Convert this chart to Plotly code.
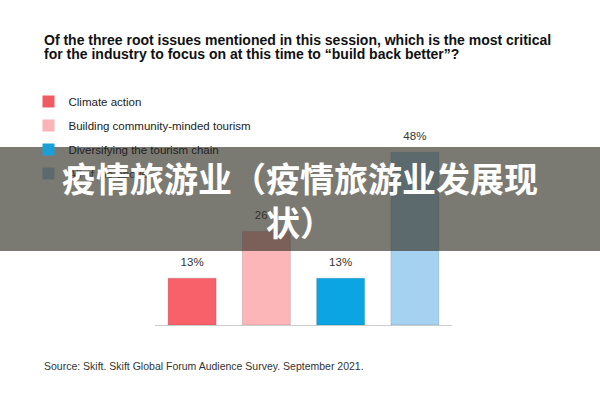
import plotly.graph_objects as go

# ---- data ----
categories = ["Climate action", "Building community-minded tourism",
              "Diversifying the tourism chain", "All of the above"]
values = [13, 26, 13, 48]
bar_colors = ["#f9616a", "#fcb6b8", "#0aa5e2", "#a6d2f1"]
legend_colors = ["#f05a60", "#f8b4b6", "#1a9fd6", "#5d6a6d"]
label_texts = [f"{v}%" for v in values]

title_lines = ["Of the three root issues mentioned in this session, which is the most critical",
               "for the industry to focus on at this time to \u201cbuild back better\u201d?"]
source_text = "Source: Skift. Skift Global Forum Audience Survey. September 2021."
banner_text = "疫情旅游业（疫情旅游业发展现<br>状）"

# ---- layout geometry (pixels) ----
W, H = 600, 400
L, R, T, B = 155, 148, 100, 75
pw, ph = W - L - R, H - T - B


def px_x(x):
    return (x - L) / pw


def px_y(y):
    return (H - B - y) / ph


fig = go.Figure()

# bars
fig.add_trace(go.Bar(x=categories, y=values, marker_color=bar_colors,
                     marker_line=dict(color="rgba(0,0,0,0.12)", width=1),
                     showlegend=False, hoverinfo="skip"))

# value labels
fig.add_trace(go.Scatter(x=categories, y=values, text=label_texts, mode="markers+text",
                         marker=dict(size=14, opacity=0), textposition="top center",
                         textfont=dict(size=11.5, color="#333333", family="Liberation Sans"),
                         cliponaxis=False, showlegend=False, hoverinfo="skip"))

# legend entries
for i, (name, col) in enumerate(zip(categories, legend_colors)):
    label = name
    if i == 3:
        label = f'<span style="color:#3a382f">{name}</span>'
    fig.add_trace(go.Bar(x=[None], y=[None], name=label, marker_color=col,
                         marker_line_width=0, legendgroup=f"g{i}", showlegend=True))

title_annots = [
    dict(text=t, xref="paper", yref="paper", x=px_x(41.5), y=px_y(yc),
         xanchor="left", yanchor="middle", showarrow=False,
         font=dict(size=14, color="#111111", family="Liberation Sans", weight="bold"))
    for t, yc in zip(title_lines, [40.5, 54.5])
]

fig.update_layout(
    width=W, height=H, autosize=False,
    margin=dict(l=L, r=R, t=T, b=B, pad=0, autoexpand=False),
    paper_bgcolor="white", plot_bgcolor="white",
    barmode="overlay", bargap=1 - 48 / (pw / 4),
    font=dict(family="Liberation Sans", color="#222222"),
    legend=dict(xref="container", yref="container", x=28.5 / W, xanchor="left",
                y=1 - 87 / H, yanchor="top", traceorder="grouped", tracegroupgap=5,
                font=dict(size=11.5, color="#222222", family="Liberation Sans"),
                bgcolor="rgba(0,0,0,0)", borderwidth=0),
    xaxis=dict(type="category", categoryorder="array", categoryarray=categories,
               showline=True, linecolor="#cccccc", linewidth=1, showticklabels=False,
               ticks="", showgrid=False, zeroline=False, fixedrange=True),
    yaxis=dict(visible=False, range=[0, ph / 3.6], showgrid=False, zeroline=False,
               fixedrange=True),
    shapes=[dict(type="rect", xref="paper", yref="paper", layer="above",
                 x0=px_x(0), x1=px_x(W), y0=px_y(251), y1=px_y(147),
                 fillcolor="rgba(52,50,38,0.65)", line_width=0)],
    annotations=title_annots + [
        dict(text=source_text, xref="paper", yref="paper", x=px_x(42), y=px_y(366),
             xanchor="left", yanchor="middle", showarrow=False,
             font=dict(size=10.5, color="#333333", family="Liberation Sans")),
        dict(text=banner_text, xref="paper", yref="paper", x=px_x(300), y=px_y(199),
             xanchor="center", yanchor="middle", showarrow=False, align="center",
             font=dict(size=34, color="white", family="Noto Sans CJK SC", weight="bold")),
    ],
)

fig.write_html("out.html")
